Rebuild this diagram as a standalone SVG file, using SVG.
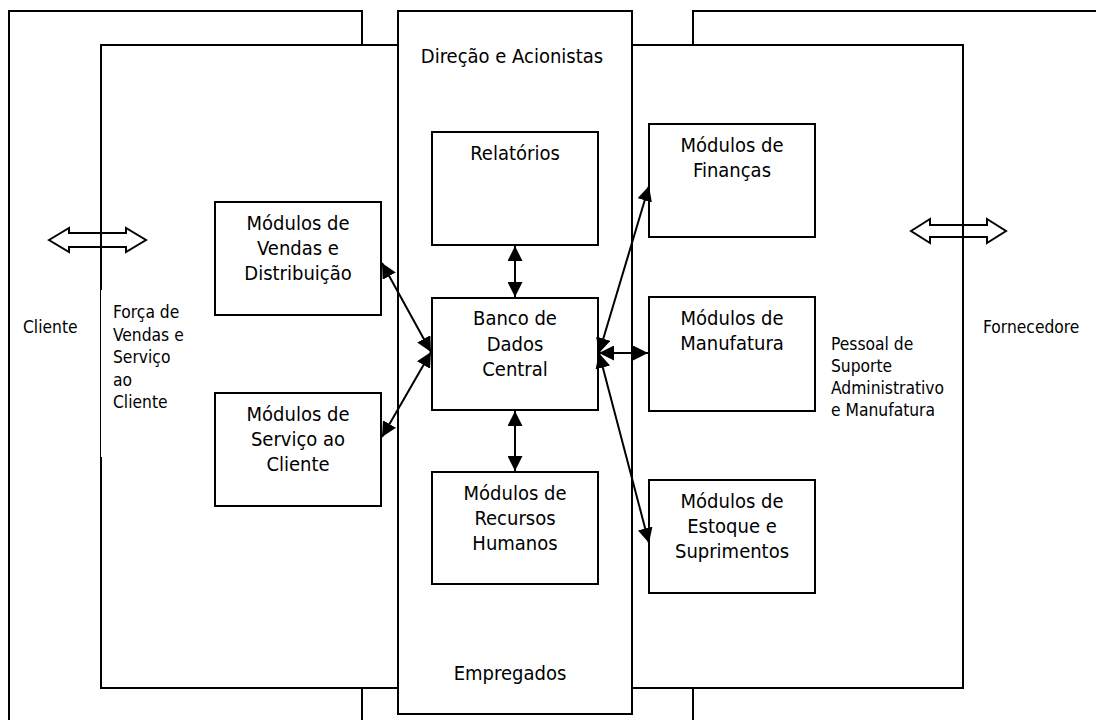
<svg xmlns="http://www.w3.org/2000/svg" width="1096" height="720" viewBox="0 0 1096 720">
  <style>
    .frame { fill: #ffffff; stroke: #000000; stroke-width: 2; }
    .box { fill: #ffffff; stroke: #000000; stroke-width: 2; }
    .t { font-family: "DejaVu Sans", Tahoma, Verdana, sans-serif; font-stretch: condensed; fill: #000000; }
    .bt { font-size: 20px; text-anchor: middle; }
    .st { font-size: 17.3px; }
    .link { fill: none; stroke: #000000; stroke-width: 2; marker-start: url(#tip); marker-end: url(#tip); }
    .flow { fill: none; stroke: #000000; stroke-width: 2; stroke-linejoin: miter; }
  </style>
  <defs>
    <marker id="tip" viewBox="0 0 15 15" refX="15" refY="7.5" markerWidth="15" markerHeight="15" markerUnits="userSpaceOnUse" orient="auto-start-reverse">
      <path d="M0,0 L15,7.5 L0,15 Z" fill="#000000"/>
    </marker>
  </defs>
  <rect width="1096" height="720" fill="#ffffff"/>

  <!-- outer zones: customers (left) and suppliers (right) -->
  <g id="zona-cliente">
    <rect class="frame" x="9" y="11" width="353" height="730"/>
    <text class="t st" x="23" y="333">Cliente</text>
  </g>
  <g id="zona-fornecedores">
    <rect class="frame" x="693" y="11" width="430" height="730"/>
    <text class="t st" x="983" y="333">Fornecedore</text>
  </g>

  <!-- inner zones -->
  <g id="zona-vendas">
    <rect class="frame" x="101" y="45" width="297" height="643"/>
    <!-- label backing partly covers the frame edge, leaving a hairline -->
    <rect x="101" y="290" width="70" height="167" fill="#ffffff"/>
    <line x1="100.5" y1="290" x2="100.5" y2="457" stroke="#000000" stroke-width="1"/>
    <text class="t st"><tspan x="113" y="318">Força de</tspan><tspan x="113" y="340.5">Vendas e</tspan><tspan x="113" y="363">Serviço</tspan><tspan x="113" y="385.5">ao</tspan><tspan x="113" y="408">Cliente</tspan></text>
  </g>
  <g id="zona-suporte">
    <rect class="frame" x="632" y="45" width="331" height="643"/>
    <text class="t st"><tspan x="831" y="350">Pessoal de</tspan><tspan x="831" y="372">Suporte</tspan><tspan x="831" y="394">Administrativo</tspan><tspan x="831" y="416">e Manufatura</tspan></text>
  </g>
  <g id="zona-central">
    <rect class="frame" x="398" y="11" width="234" height="703"/>
    <text class="t bt" x="512" y="63">Direção e Acionistas</text>
    <text class="t bt" x="510" y="680">Empregados</text>
  </g>

  <!-- external exchange arrows -->
  <g id="troca-cliente">
    <path class="flow" d="M49,240 L69,228 L69,233 L126,233 L126,228 L146,240 L126,252 L126,247 L69,247 L69,252 Z"/>
  </g>
  <g id="troca-fornecedores">
    <path class="flow" d="M911,231 L930,219 L930,225 L987,225 L987,219 L1006,231 L987,243 L987,237 L930,237 L930,243 Z"/>
  </g>

  <!-- modules -->
  <g id="vendas-distribuicao">
    <rect class="box" x="215" y="202" width="166" height="113"/>
    <text class="t bt"><tspan x="298" y="230">Módulos de</tspan><tspan x="298" y="255">Vendas e</tspan><tspan x="298" y="280">Distribuição</tspan></text>
  </g>
  <g id="servico-cliente">
    <rect class="box" x="215" y="393" width="166" height="113"/>
    <text class="t bt"><tspan x="298" y="421">Módulos de</tspan><tspan x="298" y="446">Serviço ao</tspan><tspan x="298" y="471">Cliente</tspan></text>
  </g>
  <g id="relatorios">
    <rect class="box" x="432" y="132" width="166" height="113"/>
    <text class="t bt" x="515" y="160">Relatórios</text>
  </g>
  <g id="banco-dados">
    <rect class="box" x="432" y="298" width="166" height="112"/>
    <text class="t bt"><tspan x="515" y="325">Banco de</tspan><tspan x="515" y="350.5">Dados</tspan><tspan x="515" y="376">Central</tspan></text>
  </g>
  <g id="recursos-humanos">
    <rect class="box" x="432" y="472" width="166" height="112"/>
    <text class="t bt"><tspan x="515" y="500">Módulos de</tspan><tspan x="515" y="525">Recursos</tspan><tspan x="515" y="550">Humanos</tspan></text>
  </g>
  <g id="financas">
    <rect class="box" x="649" y="124" width="166" height="113"/>
    <text class="t bt"><tspan x="732" y="152">Módulos de</tspan><tspan x="732" y="177">Finanças</tspan></text>
  </g>
  <g id="manufatura">
    <rect class="box" x="649" y="297" width="166" height="114"/>
    <text class="t bt"><tspan x="732" y="325">Módulos de</tspan><tspan x="732" y="350">Manufatura</tspan></text>
  </g>
  <g id="estoque">
    <rect class="box" x="649" y="480" width="166" height="113"/>
    <text class="t bt"><tspan x="732" y="508">Módulos de</tspan><tspan x="732" y="533">Estoque e</tspan><tspan x="732" y="558">Suprimentos</tspan></text>
  </g>

  <!-- connectors to the central database -->
  <g id="conectores">
    <path class="link" d="M515,246 L515,297"/>
    <path class="link" d="M515,411 L515,471"/>
    <path class="link" d="M382,263 L431,352"/>
    <path class="link" d="M382,437 L431,352"/>
    <path class="link" d="M599,353 L649,186"/>
    <path class="link" d="M599,353 L648,353"/>
    <path class="link" d="M599,353 L649,543"/>
  </g>
</svg>
